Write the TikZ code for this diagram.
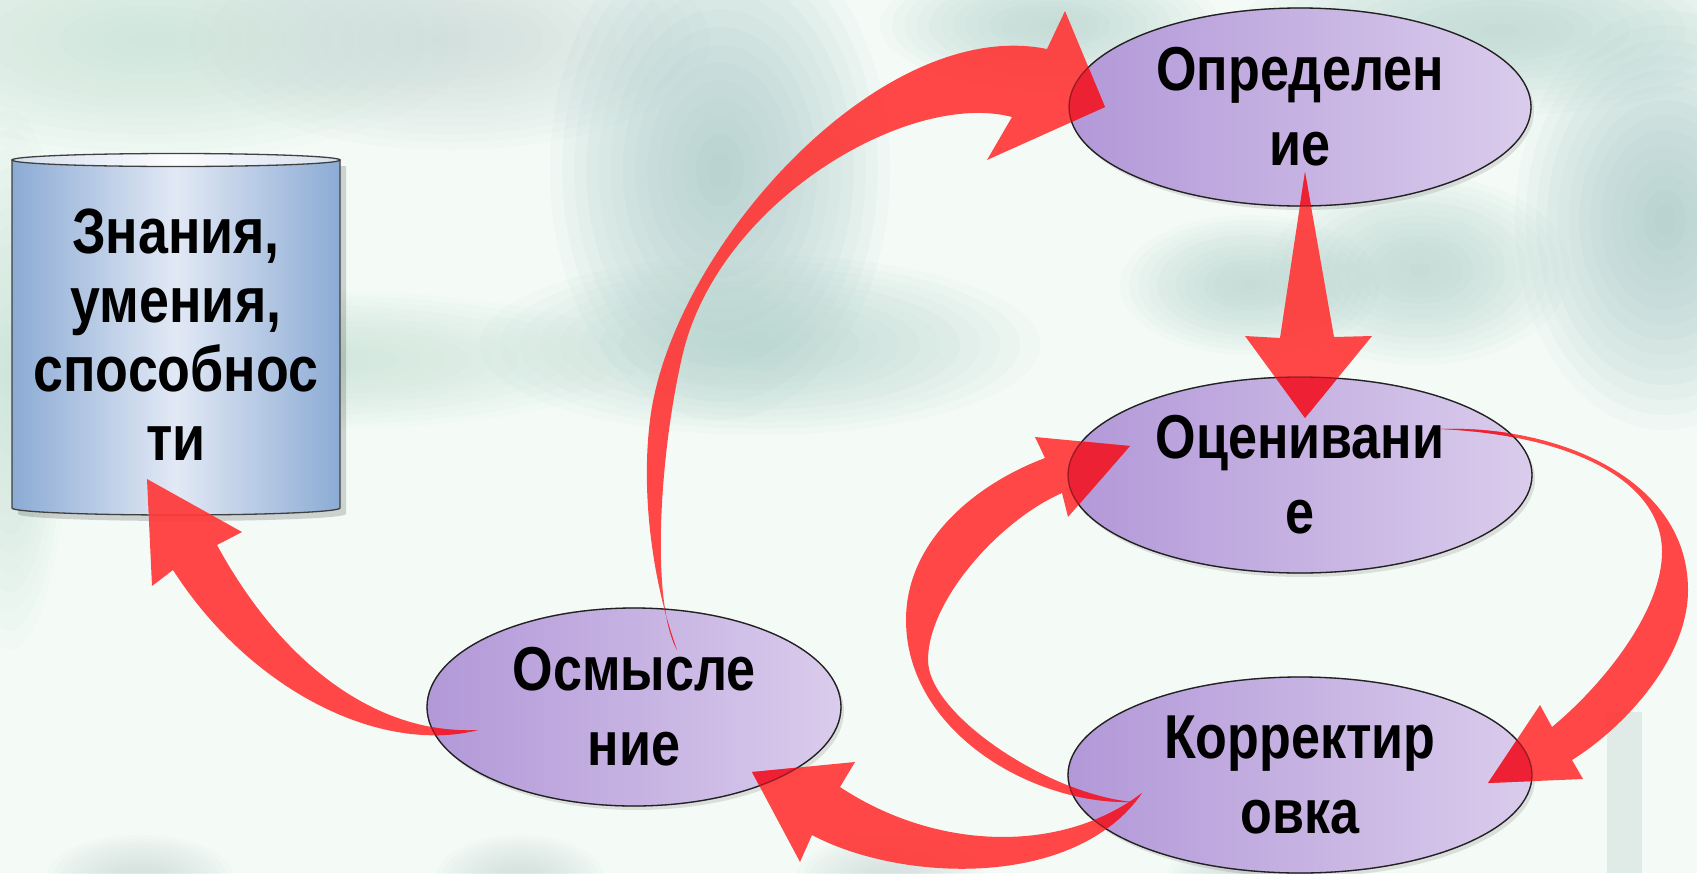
\documentclass[tikz,border=0pt]{standalone}
\usepackage{fontspec}
\newfontfamily\nb[FakeStretch=0.84]{Liberation Sans}
\usetikzlibrary{shadows,shapes.geometric}
\definecolor{bgc}{RGB}{244,251,247}
\definecolor{tealA}{RGB}{160,196,196}
\definecolor{tealB}{RGB}{178,210,204}
\definecolor{mintA}{RGB}{196,224,212}
\definecolor{greyA}{RGB}{200,216,214}
\definecolor{ellL}{RGB}{178,152,216}
\definecolor{ellR}{RGB}{218,204,236}
\definecolor{cylE}{RGB}{140,171,212}
\definecolor{cylM}{RGB}{226,233,245}
\definecolor{cylT}{RGB}{214,224,239}
\definecolor{arr}{RGB}{255,56,56}
\definecolor{crim}{RGB}{236,28,50}
\newcommand\softblob[4]{\foreach \k in {0,...,13}{\pgfmathsetmacro\fr{1-\k/14}\fill[#4, opacity=0.07] #1 ellipse [x radius={\fr*#2pt}, y radius={\fr*#3pt}];}}
% arrow outlines
\newcommand\arrA{(677,650) .. controls (655,590) and (640,500) .. (650,420)
  .. controls (671,250) and (880,15) .. (1047,49)
  -- (1065,11) -- (1105,107) -- (987,160) -- (1012,117)
  .. controls (910,90) and (720,200) .. (683,353)
  .. controls (660,450) and (650,600) .. (677,650) -- cycle}
\newcommand\arrB{(1305,172) -- (1334,337) -- (1372,336) -- (1305,418) -- (1245,336) -- (1280,338) -- cycle}
\newcommand\arrC{(1440,429) .. controls (1560,425) and (1688,480) .. (1688,590)
  .. controls (1688,660) and (1622,729) .. (1572,760)
  -- (1583,779) -- (1488,783) -- (1540,705) -- (1552,727)
  .. controls (1605,683) and (1662,610) .. (1662,552)
  .. controls (1662,480) and (1570,435) .. (1440,429) -- cycle}
\newcommand\arrD{(1133,802) .. controls (1030,805) and (906,730) .. (906,620)
  .. controls (906,540) and (977,483.5) .. (1045,458)
  -- (1035,437) -- (1130,446) -- (1068,517) -- (1062,493)
  .. controls (1000,520) and (928,600) .. (928,660)
  .. controls (928,715) and (1050,795) .. (1133,802) -- cycle}
\newcommand\arrE{(1142,793) .. controls (1075,890) and (900,882) .. (812,835)
  -- (800,862) -- (752,772) -- (855,762) -- (840,787)
  .. controls (935,850) and (1060,855) .. (1142,793) -- cycle}
\newcommand\arrF{(478,730) .. controls (380,755) and (250,690) .. (173,570)
  -- (152,586) -- (147,479) -- (242,532) -- (217,545)
  .. controls (284,668) and (380,735) .. (478,730) -- cycle}
\newcommand\ellpaths{(1300,107) ellipse [x radius=231pt, y radius=99pt]
  (1300,475) ellipse [x radius=232pt, y radius=98pt]
  (1300,775) ellipse [x radius=232pt, y radius=98pt]
  (634,707) ellipse [x radius=207pt, y radius=99pt]}
\tikzset{
  ell/.style={ellipse, draw=black!80, line width=1.3pt, left color=ellL, right color=ellR,
    align=center, inner sep=0pt, text=black,
    font=\nb\bfseries\fontsize{62}{75}\selectfont,
    drop shadow={opacity=0.22, shadow xshift=3pt, shadow yshift=-4pt}},
  blockarrow/.style={fill=arr, fill opacity=0.92, draw=none},
  inarrow/.style={fill=crim, fill opacity=0.85, draw=none},
  cyltext/.style={align=center, inner sep=0pt, text=black,
    font=\nb\bfseries\fontsize{64}{69}\selectfont}
}
\begin{document}
\begin{tikzpicture}[x=1pt,y=-1pt]
\useasboundingbox (0,0) rectangle (1697,873);
% background
\fill[bgc] (0,0) rectangle (1697,873);
\softblob{(150,40)}{320}{120}{mintA}
\softblob{(450,40)}{260}{110}{greyA}
\softblob{(720,170)}{170}{250}{tealA}
\softblob{(760,345)}{280}{90}{tealB}
\softblob{(300,360)}{340}{70}{mintA}
\softblob{(1665,220)}{150}{210}{tealA}
\softblob{(1420,270)}{150}{95}{tealB}
\softblob{(1250,285)}{130}{70}{tealB}
\softblob{(1050,25)}{170}{65}{tealB}
\softblob{(1500,30)}{260}{85}{tealB}
\softblob{(10,380)}{60}{270}{mintA}
\softblob{(140,880)}{95}{45}{greyA}
\softblob{(520,880)}{85}{45}{greyA}
\softblob{(890,880)}{95}{45}{greyA}
\softblob{(1250,880)}{85}{40}{greyA}
\fill[greyA, opacity=0.45] (1607,712) rectangle (1642,873);
% cylinder
\fill[black, opacity=0.16] (18,166) -- (18,514) arc[start angle=180, end angle=360, x radius=164pt, y radius=7pt] -- (346,166) -- cycle;
\path[left color=cylE, right color=cylE, middle color=cylM, draw=black!75, line width=1.3pt]
  (12,160) -- (12,508) arc[start angle=180, end angle=360, x radius=164pt, y radius=7pt] -- (340,160) -- cycle;
\path[left color=cylT, right color=cylT, middle color=white!92!cylT, draw=black!75, line width=1.3pt]
  (176,160) ellipse [x radius=164pt, y radius=6.5pt];
\node[cyltext] (kb) at (176,335) {Знания,\\умения,\\способнос\\ти};
% ellipses
\node[ell, minimum width=462pt, minimum height=198pt] (opr) at (1300,107) {Определен\\ие};
\node[ell, minimum width=464pt, minimum height=196pt] (otz) at (1300,475) {Оценивани\\е};
\node[ell, minimum width=464pt, minimum height=196pt] (kor) at (1300,775) {Корректир\\овка};
\node[ell, minimum width=414pt, minimum height=198pt] (osm) at (634,707) {Осмысле\\ние};
% arrows: osm->opr, opr->otz, otz->kor, kor->otz, kor->osm, osm->kb
\fill[blockarrow] \arrA;
\fill[blockarrow] \arrB;
\fill[blockarrow] \arrC;
\fill[blockarrow] \arrD;
\fill[blockarrow] \arrE;
\fill[blockarrow] \arrF;
% darker tint where arrows lie over the ellipses
\begin{scope}
  \clip \ellpaths;
  \fill[inarrow] \arrA;
  \fill[inarrow] \arrB;
  \fill[inarrow] \arrC;
  \fill[inarrow] \arrD;
  \fill[inarrow] \arrE;
  \fill[inarrow] \arrF;
\end{scope}
\draw[black, opacity=0.35, line width=1.3pt] \ellpaths;
\end{tikzpicture}
\end{document}
